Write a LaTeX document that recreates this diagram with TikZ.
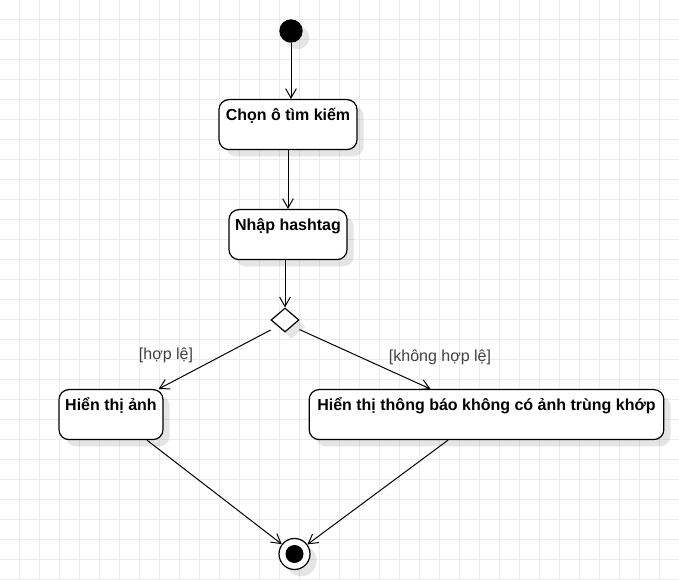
\documentclass[tikz,border=0pt]{standalone}
\usepackage{fontspec}
\setmainfont{Liberation Sans}
\usetikzlibrary{shapes.geometric,arrows.meta,shadows}

\begin{document}
\begin{tikzpicture}[x=0.75pt,y=-0.75pt]

		\tikzstyle{gridline}=[draw=black!8,
		line width=0.75pt
		]
		\tikzstyle{actbox}=[rectangle,
		rounded corners=7.5pt,
		draw=black,
		fill=white,
		line width=0.9pt,
		anchor=north,
		inner xsep=0pt,
		inner ysep=0pt,
		text height=15.75pt,
		text depth=21.75pt,
		font=\bfseries\fontsize{12}{14}\selectfont,
		drop shadow={shadow xshift=5pt, shadow yshift=-5pt, fill=black, opacity=0.1}
		]
		\tikzstyle{choice}=[diamond,
		draw=black,
		fill=white,
		line width=0.9pt,
		inner sep=0pt,
		minimum width=21pt,
		minimum height=18pt,
		drop shadow={shadow xshift=5pt, shadow yshift=-5pt, fill=black, opacity=0.1}
		]
		\tikzstyle{flow}=[-{Straight Barb[length=7pt,width=8pt]},
		line width=0.75pt
		]
		\tikzstyle{guard}=[text=black!75,
		font=\fontsize{12}{14}\selectfont
		]

		\useasboundingbox (0,0) rectangle (679,580);
		\foreach \gx in {19.5,39.5,...,679} \draw[gridline] (\gx,0) -- (\gx,580);
		\foreach \gy in {19.5,39.5,...,580} \draw[gridline] (0,\gy) -- (679,\gy);

		\coordinate (ps) at (291, 31);
		\coordinate (p1) at (288, 99);
		\coordinate (p2) at (288, 209);
		\coordinate (pd) at (285, 320);
		\coordinate (p3) at (111, 389);
		\coordinate (p4) at (486.5, 389);
		\coordinate (pe) at (294.5, 554);

		\coordinate (t1) at (166, 355);
		\coordinate (t2) at (440, 357);

		\node[circle, fill=black, inner sep=0pt, minimum size=17.5pt,
		drop shadow={shadow xshift=5pt, shadow yshift=-5pt, fill=black, opacity=0.1}] (start) at (ps) {};
		\node[actbox, minimum width=103.5pt] (chon) at (p1) {Chọn ô tìm kiếm};
		\node[actbox, minimum width=88.5pt] (nhap) at (p2) {Nhập hashtag};
		\node[choice] (check) at (pd) {};
		\node[actbox, minimum width=78pt] (anh) at (p3) {Hiển thị ảnh};
		\node[actbox, minimum width=266pt] (thongbao) at (p4) {Hiển thị thông báo không có ảnh trùng khớp};
		\node[circle, draw=black, fill=white, line width=0.9pt, inner sep=0pt, minimum size=23.25pt,
		drop shadow={shadow xshift=5pt, shadow yshift=-5pt, fill=black, opacity=0.1}] (end) at (pe) {};
		\fill[black] (end) circle (6.75pt);

		\draw[flow] (start) -- (start |- chon.north);
		\draw[flow] (chon.south) -- (nhap.north);
		\draw[flow] (check.north |- nhap.south) -- (check.north);
		\draw[flow, shorten <=6pt] (check.south west) -- ([xshift=-3.75pt]anh.north east);
		\draw[flow, shorten <=6pt] (check.south east) -- ([xshift=-42pt]thongbao.north);
		\draw[flow] ([xshift=27pt]anh.south) -- (end);
		\draw[flow] ([xshift=-28.9pt]thongbao.south) -- (end);

		\draw[] (t1) node[guard] {[hợp lệ]};
		\draw[] (t2) node[guard] {[không hợp lệ]};

\end{tikzpicture}
\end{document}
